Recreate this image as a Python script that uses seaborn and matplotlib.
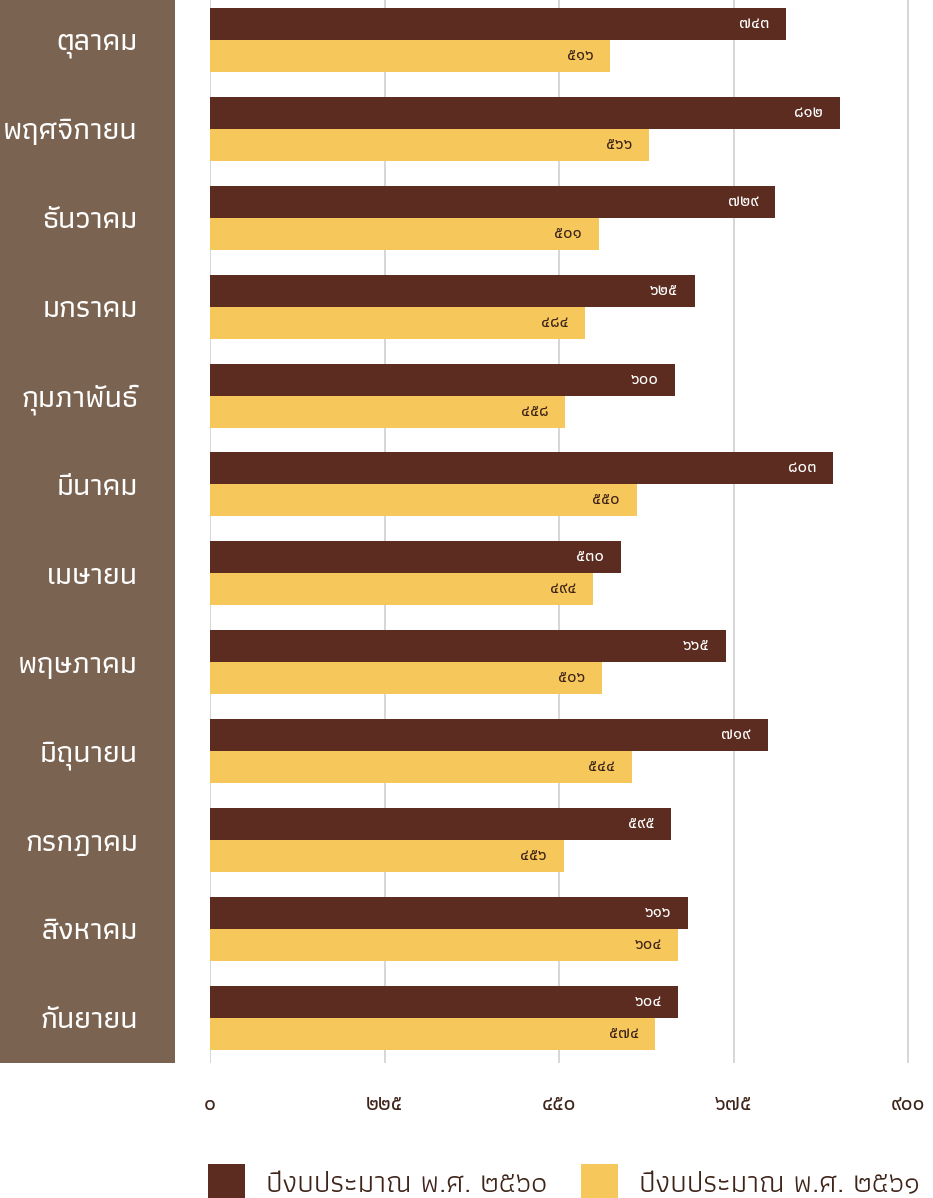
import matplotlib
matplotlib.use("Agg")
import matplotlib.pyplot as plt
from matplotlib import font_manager as fm
from matplotlib.ft2font import FT2Font
from matplotlib.patches import Rectangle
import seaborn as sns
import pandas as pd

# ---------------- data ----------------
months = ["ตุลาคม", "พฤศจิกายน", "ธันวาคม", "มกราคม", "กุมภาพันธ์", "มีนาคม",
          "เมษายน", "พฤษภาคม", "มิถุนายน", "กรกฎาคม", "สิงหาคม", "กันยายน"]
series_names = ["ปีงบประมาณ พ.ศ. ๒๕๖๐", "ปีงบประมาณ พ.ศ. ๒๕๖๑"]
fy2560 = [743, 812, 729, 625, 600, 803, 530, 665, 719, 595, 616, 604]
fy2561 = [516, 566, 501, 484, 458, 550, 494, 506, 544, 456, 604, 574]
x_ticks = [0, 225, 450, 675, 900]
x_tick_labels = ["๐", "๒๒๕", "๔๕๐", "๖๗๕", "๙๐๐"]

THAI_DIGITS = str.maketrans("0123456789", "๐๑๒๓๔๕๖๗๘๙")

# ---------------- fonts with Thai glyphs ----------------
found = []
for f in fm.fontManager.ttflist:
    try:
        cm = FT2Font(f.fname).get_charmap()
    except Exception:
        continue
    if 0x0E01 in cm and 0x0E51 in cm and f.name not in found:
        found.append(f.name)


def pick(prefs):
    for p in prefs:
        if p in found:
            return p
    return found[0] if found else "DejaVu Sans"


label_font = pick(["Athiti", "Anuphan", "Kanit", "Noto Sans Thai", "Loma"])
digit_font = pick(["Noto Sans Thai", "Noto Sans Thai UI", "Loma", "Athiti"])

sns.set_theme(style="white")
plt.rcParams["font.family"] = [label_font, "DejaVu Sans"]

# ---------------- long data ----------------
df = pd.DataFrame({
    "month": months * 2,
    "series": [series_names[0]] * len(months) + [series_names[1]] * len(months),
    "value": fy2560 + fy2561,
})

dark = "#5b2c1f"
yellow = "#f6c75b"
band = "#7b6351"
textdark = "#3e2419"

W, H = 933, 1198
fig = plt.figure(figsize=(W / 100, H / 100), dpi=100)
fig.patch.set_facecolor("white")

# brown band on the left
fig.patches.append(Rectangle((0, 1 - 1063 / H), 175 / W, 1063 / H,
                             transform=fig.transFigure, facecolor=band,
                             edgecolor="none", zorder=-5))

x0 = 210
ax = fig.add_axes([x0 / W, 1 - 1063 / H, (W - x0) / W, 1063 / H])
ax.set_facecolor("none")

sns.barplot(data=df, y="month", x="value", hue="series", order=months,
            hue_order=series_names, palette={series_names[0]: dark, series_names[1]: yellow},
            orient="h", width=0.72, dodge=True, gap=0, ax=ax, saturation=1,
            linewidth=0, err_kws={"linewidth": 0}, zorder=3)

ax.set_xlim(0, (W - x0) / 0.7756)
ax.set_ylim(11.51, -0.45)
ax.set_xticks(x_ticks)
ax.set_xticklabels(x_tick_labels, color=textdark, fontsize=15, family=[digit_font, "DejaVu Sans"])
ax.tick_params(axis="x", length=0, pad=22)
ax.tick_params(axis="y", length=0, pad=52, labelcolor="white", labelsize=22)
for t in ax.get_yticklabels():
    t.set_fontweight(500)
ax.set_xlabel("")
ax.set_ylabel("")
for s in ax.spines.values():
    s.set_visible(False)
ax.grid(axis="x", color="#cfcfcf", linewidth=1.2, zorder=0)
ax.grid(axis="y", visible=False)
ax.set_axisbelow(True)

# value labels inside bar ends
text_colors = ["white", textdark]
for cont, col in zip(ax.containers, text_colors):
    for p in cont:
        w = p.get_width()
        ax.annotate(str(int(round(w))).translate(THAI_DIGITS),
                    xy=(w, p.get_y() + p.get_height() / 2), xytext=(-12, 0),
                    textcoords="offset points", ha="right", va="center",
                    color=col, fontsize=12, fontweight="semibold", zorder=5,
                    family=[digit_font, "DejaVu Sans"])

# legend at bottom
handles, labels = ax.get_legend_handles_labels()
ax.get_legend().remove()
leg = fig.legend(handles, labels, loc="lower left", bbox_to_anchor=(208 / W, -2 / H),
                 ncol=2, frameon=False, fontsize=21.5, handlelength=1.24, handleheight=1.47,
                 columnspacing=1.15, handletextpad=0.7, labelcolor=textdark,
                 borderpad=0, borderaxespad=0)

fig.savefig("out.png", dpi=100, facecolor="white")
